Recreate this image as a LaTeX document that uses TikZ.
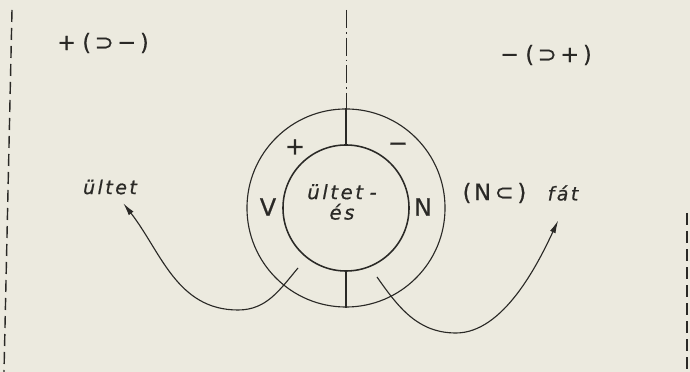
\documentclass[tikz,border=0pt]{standalone}
\usepackage{fontspec}
\setmainfont{DejaVu Sans}
\newfontfamily\labfont[LetterSpace=13,FakeBold=0.6]{DejaVu Sans}
\usetikzlibrary{arrows.meta,positioning,calc}
\definecolor{paper}{HTML}{ECEADF}
\definecolor{ink}{HTML}{2A2926}
\tikzset{
  >={Latex[length=3.2mm,width=1.5mm]},
  ring/.style={draw=ink, circle, inner sep=0pt},
  tick/.style={draw=ink, line width=0.8pt},
  axisline/.style={draw=ink, line width=0.7pt, dash pattern=on 4.5mm off 1mm on 0.4mm off 1mm},
  border/.style={draw=ink, line width=1pt, dash pattern=on 3mm off 1.5mm},
  move/.style={->, draw=ink, line width=0.8pt},
  sign/.style={font=\labfont\fontsize{16}{18}\selectfont, text=ink, inner sep=1pt},
  word/.style={font=\labfont\itshape\fontsize{13.5}{15}\selectfont, text=ink, inner sep=1pt},
  big/.style={font=\labfont\fontsize{17}{19}\selectfont, text=ink, inner sep=1pt},
}

\begin{document}
\begin{tikzpicture}[x=0.025cm,y=0.025cm]

% Canvas ----------------------------------------------------------------------
\fill[paper] (0,0) rectangle (690,372);
\useasboundingbox (0,0) rectangle (690,372);

\draw[border] (12,362) -- (4,0);
\draw[border] (687,159) -- (687,0);

% Rings -----------------------------------------------------------------------
\node[ring, line width=0.8pt, minimum size=4.95cm] (outer) at (346,164) {};
\node[ring, line width=1.1pt, minimum size=3.15cm] (inner) at (346,164) {};

\coordinate (axistop) at (346,362);
\draw[axisline] (axistop) -- (outer.north);
\draw[tick] (outer.north) -- (inner.north);
\draw[tick] (inner.south) -- (outer.south);

\node[word, font=\labfont\itshape\fontsize{14}{14.5}\selectfont, align=center] (noun) at (342,170) {ültet\,\,-\\és};

\node[big] (plus) at (295,225) {+};
\node[big] (minus) at (398,225) {−};
\node[big] (vee) at (268,165) {V};
\node[big] (enn) at (423,165) {N};

% Side labels -----------------------------------------------------------------
\node[sign] (leftrule) at (103,329) {+\;(\,⊃\,−\,)};
\node[sign] (rightrule) at (546,317) {−\;(\,⊃\,+\,)};

\node[word] (ultet) at (110,185) {ültet};
\node[word] (fat) at (563,179) {fát};
\node[sign, left=0.45cm of fat] (ncap) {(N\,⊂\,)};

% Arrows ----------------------------------------------------------------------
\coordinate (lstart) at ($(inner.center)+(-48,-60)$);
\coordinate (lfoot) at (238,62);
\coordinate (rstart) at ($(inner.center)+(31,-69)$);
\coordinate (rfoot) at (456,39);

\draw[move] (lstart) to[out=-130,in=0] (lfoot)
  to[out=180,in=-52] ([xshift=0.33cm,yshift=-0.18cm]ultet.south);
\draw[move] (rstart) to[out=-55,in=180] (rfoot)
  to[out=0,in=-115,looseness=0.8] ([xshift=-0.12cm,yshift=-0.45cm]fat.south);

\end{tikzpicture}
\end{document}
